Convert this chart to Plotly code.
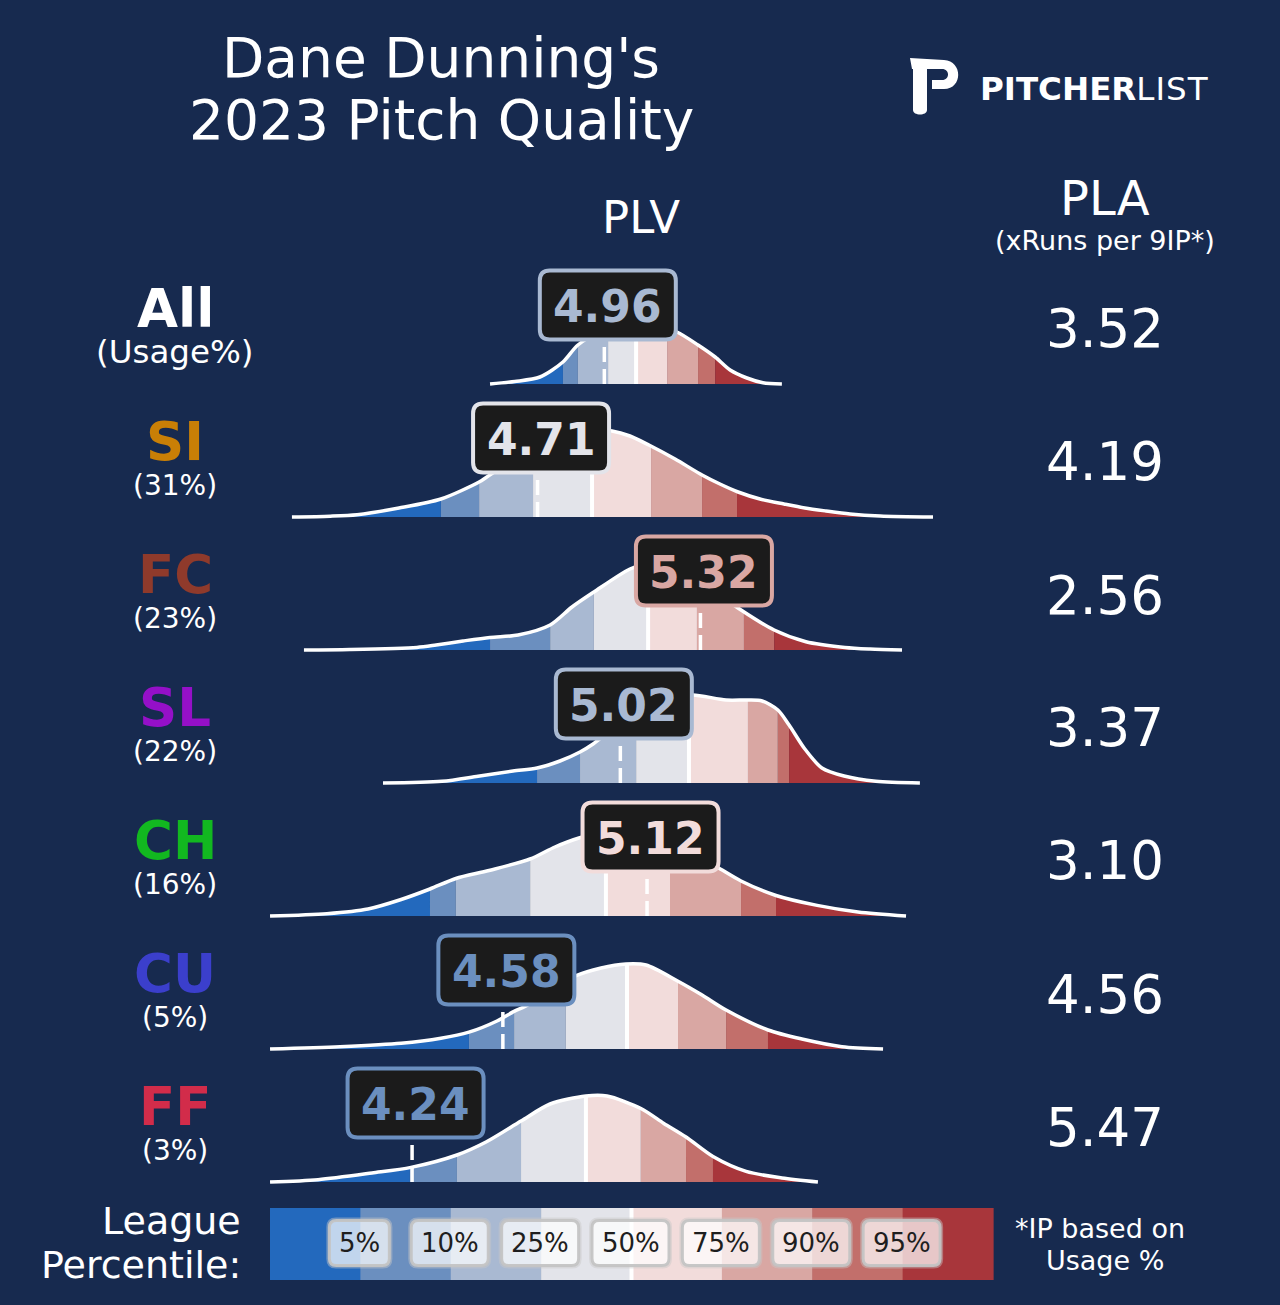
import numpy as np
import plotly.graph_objects as go

W, H = 1280, 1305
BG = "#172a4f"
FONT = "DejaVu Sans"

# ---------------- data ----------------
pitch_names = ["All", "SI", "FC", "SL", "CH", "CU", "FF"]
usage_labels = ["(Usage%)", "(31%)", "(23%)", "(22%)", "(16%)", "(5%)", "(3%)"]
name_colors = ["#ffffff", "#c97f06", "#8f3a2b", "#9510c8", "#12b820", "#3b3fcc", "#d22c4a"]
plv_values = [4.96, 4.71, 5.32, 5.02, 5.12, 4.58, 4.24]
pla_values = [3.52, 4.19, 2.56, 3.37, 3.10, 4.56, 5.47]

percentile_labels = ["5%", "10%", "25%", "50%", "75%", "90%", "95%"]
band_colors = ["#2369bd", "#6b8fbf", "#a9b9d2", "#e3e4ea", "#f2dcdb", "#d9a7a3", "#c26f6b", "#a8363b"]

# league density curves (PLV, relative density) and percentile cut points (5,10,25,50,75,90,95)
all_x = [4.532, 4.625, 4.719, 4.805, 4.861, 4.944, 5.019, 5.094, 5.169, 5.232, 5.311, 5.375, 5.431, 5.494, 5.554, 5.625]
all_d = [0.0, 0.025, 0.07, 0.22, 0.39, 0.52, 0.58, 0.60, 0.57, 0.52, 0.39, 0.27, 0.14, 0.06, 0.013, 0.0]
all_pct = [4.805, 4.861, 4.974, 5.079, 5.195, 5.311, 5.375]

si_x = [3.790, 3.933, 4.034, 4.191, 4.348, 4.491, 4.520, 4.607, 4.719, 4.831, 4.925, 4.989, 5.056,
        5.127, 5.225, 5.326, 5.393, 5.461, 5.543, 5.633, 5.711, 5.790, 5.880, 5.993, 6.191]
si_d = [0.0, 0.008, 0.023, 0.09, 0.18, 0.35, 0.40, 0.55, 0.70, 0.81, 0.87, 0.86, 0.81,
        0.72, 0.58, 0.42, 0.33, 0.25, 0.18, 0.13, 0.09, 0.06, 0.03, 0.01, 0.0]
si_pct = [4.348, 4.491, 4.693, 4.914, 5.135, 5.326, 5.457]

fc_x = [3.835, 4.007, 4.258, 4.330, 4.431, 4.532, 4.637, 4.757, 4.839, 4.921, 5.056, 5.131, 5.206,
        5.307, 5.393, 5.472, 5.596, 5.715, 5.861, 5.955, 6.075]
fc_d = [0.0, 0.005, 0.026, 0.05, 0.09, 0.126, 0.15, 0.25, 0.43, 0.58, 0.81, 0.87, 0.88,
        0.72, 0.55, 0.40, 0.20, 0.083, 0.026, 0.01, 0.0]
fc_pct = [4.532, 4.757, 4.921, 5.124, 5.307, 5.483, 5.596]

sl_x = [4.131, 4.352, 4.487, 4.618, 4.708, 4.794, 4.869, 4.918, 5.019, 5.131, 5.225, 5.292, 5.416,
        5.498, 5.551, 5.610, 5.652, 5.711, 5.775, 5.858, 5.977, 6.142]
sl_d = [0.0, 0.017, 0.068, 0.12, 0.15, 0.22, 0.31, 0.39, 0.60, 0.78, 0.86, 0.88, 0.83,
        0.83, 0.82, 0.73, 0.58, 0.34, 0.15, 0.07, 0.017, 0.0]
sl_pct = [4.708, 4.869, 5.079, 5.277, 5.498, 5.610, 5.652]

ch_x = [3.708, 3.921, 4.075, 4.199, 4.307, 4.404, 4.528, 4.682, 4.775, 4.865, 4.944, 5.019, 5.094,
        5.169, 5.243, 5.318, 5.382, 5.472, 5.603, 5.757, 5.910, 6.090]
ch_d = [0.0, 0.023, 0.07, 0.165, 0.27, 0.375, 0.455, 0.57, 0.69, 0.78, 0.83, 0.86, 0.84,
        0.78, 0.69, 0.58, 0.49, 0.35, 0.205, 0.106, 0.04, 0.0]
ch_pct = [4.307, 4.404, 4.682, 4.966, 5.206, 5.472, 5.603]

cu_x = [3.708, 3.970, 4.199, 4.348, 4.453, 4.558, 4.622, 4.663, 4.757, 4.850, 4.948, 5.041, 5.116,
        5.236, 5.326, 5.416, 5.573, 5.700, 5.850, 6.004]
cu_d = [0.0, 0.023, 0.057, 0.107, 0.168, 0.28, 0.376, 0.426, 0.58, 0.728, 0.81, 0.85, 0.84,
        0.678, 0.54, 0.39, 0.19, 0.10, 0.023, 0.0]
cu_pct = [4.453, 4.622, 4.816, 5.045, 5.236, 5.416, 5.573]

ff_x = [3.708, 3.888, 4.090, 4.236, 4.408, 4.517, 4.648, 4.757, 4.891, 4.970, 5.097, 5.183, 5.266,
        5.367, 5.491, 5.625, 5.760]
ff_d = [0.0, 0.023, 0.09, 0.146, 0.27, 0.40, 0.61, 0.78, 0.86, 0.86, 0.735, 0.586, 0.45,
        0.255, 0.106, 0.04, 0.0]
ff_pct = [4.232, 4.408, 4.648, 4.891, 5.097, 5.266, 5.367]

curves_x = [all_x, si_x, fc_x, sl_x, ch_x, cu_x, ff_x]
curves_d = [all_d, si_d, fc_d, sl_d, ch_d, cu_d, ff_d]
curves_pct = [all_pct, si_pct, fc_pct, sl_pct, ch_pct, cu_pct, ff_pct]

# ---------------- layout constants ----------------
PX_PER_PLV = 267.0
PLV_AT_PX0 = 720.0 / PX_PER_PLV
X_RANGE = [PLV_AT_PX0, PLV_AT_PX0 + W / PX_PER_PLV]
PX_PER_D = 100.0          # pixels per density unit
ROW_TOP = 384             # baseline of first row (px)
ROW_STEP = 133
BOX_C = 0.79              # box centre above baseline (density units)
BOX_HH = 0.345            # box half height
BOX_HW = 68 / PX_PER_PLV  # box half width
BOX_DX = 3.5 / PX_PER_PLV # box offset right of the value marker


def fx(x):
    return x / W


def fy(y):
    return 1 - y / H


def rrect(x0, y0, x1, y1, rx, ry):
    return (f"M {x0+rx},{y0} L {x1-rx},{y0} Q {x1},{y0} {x1},{y0+ry} "
            f"L {x1},{y1-ry} Q {x1},{y1} {x1-rx},{y1} L {x0+rx},{y1} "
            f"Q {x0},{y1} {x0},{y1-ry} L {x0},{y0+ry} Q {x0},{y0} {x0+rx},{y0} Z")


def rrect_px(x0, y0, x1, y1, r):
    return rrect(fx(x0), fy(y1), fx(x1), fy(y0), r / W, r / H)


fig = go.Figure()
shapes, annotations = [], []
layout_axes = {}

for k in range(len(pitch_names)):
    base = ROW_TOP + k * ROW_STEP
    yname = "y" if k == 0 else f"y{k+1}"
    ykey = "yaxis" if k == 0 else f"yaxis{k+1}"
    layout_axes[ykey] = dict(domain=[fy(base + 5), fy(base - 135)], range=[-0.05, 1.35],
                             visible=False, anchor="x", fixedrange=True)
    xs = np.array(curves_x[k])
    ds = np.array(curves_d[k])
    pct = curves_pct[k]
    bounds = [xs[0]] + list(pct) + [xs[-1]]
    for b in range(8):
        lo, hi = bounds[b], bounds[b + 1]
        inner = xs[(xs > lo) & (xs < hi)]
        bx = np.concatenate([[lo], inner, [hi]])
        by = np.interp(bx, xs, ds)
        fig.add_trace(go.Scatter(x=bx, y=by, mode="lines", xaxis="x", yaxis=yname,
                                 line=dict(width=0, shape="spline", smoothing=0.8),
                                 fill="tozeroy", fillcolor=band_colors[b],
                                 hoverinfo="skip", showlegend=False))
    fig.add_trace(go.Scatter(x=xs, y=ds, mode="lines", xaxis="x", yaxis=yname,
                             line=dict(color="white", width=3.5, shape="spline", smoothing=0.8),
                             hoverinfo="skip", showlegend=False))
    # median line
    med = pct[3]
    shapes.append(dict(type="line", xref="x", yref=yname, x0=med, x1=med, y0=0,
                       y1=float(np.interp(med, xs, ds)) - 0.01,
                       line=dict(color="white", width=4), layer="above"))
    # pitcher value
    v = plv_values[k]
    col = band_colors[int(np.searchsorted(pct, v))]
    shapes.append(dict(type="line", xref="x", yref=yname, x0=v, x1=v, y0=0, y1=BOX_C - BOX_HH,
                       line=dict(color="white", width=3.5, dash="15px,7px"), layer="above"))
    bc = v + BOX_DX
    shapes.append(dict(type="path", xref="x", yref=yname,
                       path=rrect(bc - BOX_HW, BOX_C - BOX_HH, bc + BOX_HW, BOX_C + BOX_HH,
                                  10 / PX_PER_PLV, 10 / PX_PER_D),
                       fillcolor="#1b1b1b", line=dict(color=col, width=4), layer="above"))
    annotations.append(dict(x=bc, y=BOX_C, xref="x", yref=yname, text=f"<b>{v:.2f}</b>",
                            showarrow=False, xanchor="center", yanchor="middle", yshift=-1,
                            font=dict(family=FONT, size=44, color=col)))
    # labels
    annotations.append(dict(x=fx(175), y=fy(base - 76), xref="paper", yref="paper",
                            text=f"<b>{pitch_names[k]}</b>", showarrow=False,
                            xanchor="center", yanchor="middle",
                            font=dict(family=FONT, size=53, color=name_colors[k])))
    annotations.append(dict(x=fx(175), y=fy(base - 32), xref="paper", yref="paper",
                            text=usage_labels[k], showarrow=False,
                            xanchor="center", yanchor="middle",
                            font=dict(family=FONT, size=28 if k else 32.5, color="white")))
    annotations.append(dict(x=fx(1105), y=fy(base - 55), xref="paper", yref="paper",
                            text=f"{pla_values[k]:.2f}", showarrow=False,
                            xanchor="center", yanchor="middle",
                            font=dict(family=FONT, size=53, color="white")))

# title & headers
for txt, x, y, size in [("Dane Dunning's", 441, 58, 55), ("2023 Pitch Quality", 441, 120, 55),
                        ("PLV", 641, 218, 45), ("PLA", 1105, 198, 48),
                        ("(xRuns per 9IP*)", 1105, 240, 27),
                        ("*IP based on", 1100, 1228, 27), ("Usage %", 1105, 1260, 27)]:
    annotations.append(dict(x=fx(x), y=fy(y), xref="paper", yref="paper", text=txt,
                            showarrow=False, xanchor="center", yanchor="middle",
                            font=dict(family=FONT, size=size, color="white")))
for txt, y in [("League", 1221), ("Percentile:", 1265)]:
    annotations.append(dict(x=fx(243), y=fy(y), xref="paper", yref="paper", text=txt,
                            showarrow=False, xanchor="right", yanchor="middle",
                            font=dict(family=FONT, size=38, color="white")))

# logo
annotations.append(dict(x=fx(978), y=fy(89), xref="paper", yref="paper",
                        text="<b>PITCHER</b><span style='letter-spacing:1px'>LIST</span>",
                        showarrow=False, xanchor="left",
                        yanchor="middle", font=dict(family=FONT, size=32.5, color="white")))


def pth(cmds):
    out = []
    for c in cmds:
        if isinstance(c, str):
            out.append(c)
        else:
            out.append(f"{fx(c[0])},{fy(c[1])}")
    return " ".join(out)


bowl = pth(["M", (910, 58), "L", (944, 60), "C", (963, 61), (963, 89), (944, 89), "L", (932, 89),
            "L", (932, 80), "L", (942, 80), "C", (950, 80), (950, 69), (942, 69), "L", (912, 69), "Z"])
stem = pth(["M", (913, 64), "L", (927, 64), "L", (927, 110), "C", (927, 116), (913, 116), (913, 110), "Z"])
for p in (bowl, stem):
    shapes.append(dict(type="path", xref="paper", yref="paper", path=p, fillcolor="white",
                       line=dict(width=0), layer="above"))

# percentile legend bar
LX0, LX1, LY0, LY1 = 270, 993, 1208, 1280
seg = (LX1 - LX0) / 8
for b in range(8):
    shapes.append(dict(type="rect", xref="paper", yref="paper",
                       x0=fx(LX0 + b * seg), x1=fx(LX0 + (b + 1) * seg) + 0.0005,
                       y0=fy(LY1), y1=fy(LY0), fillcolor=band_colors[b],
                       line=dict(width=0), layer="above"))
mid = LX0 + 4 * seg
shapes.append(dict(type="line", xref="paper", yref="paper", x0=fx(mid), x1=fx(mid),
                   y0=fy(LY1), y1=fy(LY0), line=dict(color="white", width=4), layer="above"))
for i, lab in enumerate(percentile_labels):
    cx = LX0 + (i + 1) * seg - 1
    hw = 30 if len(lab) == 2 else 38.5
    shapes.append(dict(type="path", xref="paper", yref="paper",
                       path=rrect_px(cx - hw - 1.5, 1219, cx + hw + 1.5, 1267, 8),
                       fillcolor="rgba(0,0,0,0)",
                       line=dict(color="rgba(200,200,200,0.45)", width=3), layer="above"))
    shapes.append(dict(type="path", xref="paper", yref="paper",
                       path=rrect_px(cx - hw, 1220.5, cx + hw, 1265.5, 7),
                       fillcolor="rgba(255,255,255,0.72)",
                       line=dict(color="rgba(196,196,196,0.95)", width=3), layer="above"))
    annotations.append(dict(x=fx(cx), y=fy(1243), xref="paper", yref="paper", text=lab,
                            showarrow=False, xanchor="center", yanchor="middle",
                            font=dict(family=FONT, size=26, color="#1e1e1e")))

fig.update_layout(
    width=W, height=H, margin=dict(l=0, r=0, t=0, b=0),
    paper_bgcolor=BG, plot_bgcolor="rgba(0,0,0,0)",
    showlegend=False,
    xaxis=dict(range=X_RANGE, domain=[0, 1], visible=False, anchor="y", fixedrange=True),
    shapes=shapes, annotations=annotations,
    **layout_axes,
)

fig.write_html("out.html", config={"displayModeBar": False},
               post_script="document.body.style.margin='0';document.body.style.background='%s';" % BG)
